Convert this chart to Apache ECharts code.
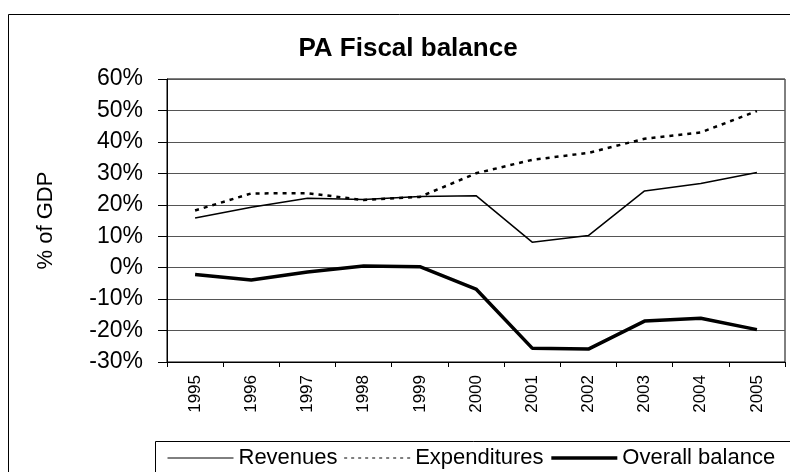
<!DOCTYPE html>
<html lang="en">
<head>
    <meta charset="UTF-8">
    <script src="https://cdn.jsdelivr.net/npm/echarts@6/dist/echarts.min.js"></script>
    <title>PA Fiscal balance</title>
    <style>
        html, body { margin: 0; padding: 0; background: #fff; }
    </style>
</head>
<body>
<div id="main" style="width: 790px;height:472px;"></div>

<script type="text/javascript">
    // data (% of GDP)
    var years = ['1995', '1996', '1997', '1998', '1999', '2000', '2001', '2002', '2003', '2004', '2005'];
    var revenues = [15.8, 19.2, 22.1, 21.7, 22.6, 22.9, 8.1, 10.2, 24.4, 26.8, 30.3];
    var expenditures = [18.2, 23.6, 23.7, 21.5, 22.5, 30.0, 34.3, 36.5, 41.0, 43.0, 49.8];
    var balance = [-2.2, -3.9, -1.4, 0.5, 0.3, -6.8, -25.6, -25.9, -17.0, -16.1, -19.7];

    var font = '"Liberation Sans", Arial, sans-serif';
    var myChart = echarts.init(document.getElementById('main'));

    var option = {
        animation: false,
        backgroundColor: '#fff',
        // outer frame + legend box
        graphic: [
            {
                type: 'rect',
                shape: {x: 8.5, y: 14.5, width: 820, height: 500},
                style: {fill: 'none', stroke: '#000', lineWidth: 1},
                silent: true, z: 0
            },
            {
                type: 'rect',
                shape: {x: 155.5, y: 441.5, width: 700, height: 100},
                style: {fill: 'none', stroke: '#000', lineWidth: 1},
                silent: true, z: 0
            }
        ],
        title: {
            text: 'PA Fiscal balance',
            left: 403,
            textAlign: 'center',
            top: 31,
            textStyle: {
                fontFamily: font,
                fontSize: 26,
                fontWeight: 'bold',
                color: '#000'
            }
        },
        legend: {
            data: [
                {name: 'Revenues', lineStyle: {width: 1}},
                {name: 'Expenditures', lineStyle: {width: 1.2, type: [3, 4]}},
                {name: 'Overall balance', lineStyle: {width: 3.5}}
            ],
            left: 167,
            top: 447,
            itemWidth: 66,
            itemHeight: 14,
            itemGap: 6,
            padding: 0,
            itemStyle: {opacity: 0},  // line only, no marker
            textStyle: {
                fontFamily: font,
                fontSize: 22,
                color: '#000'
            }
        },
        grid: {
            left: 167,
            right: 5,
            top: 79,
            bottom: 110,
            show: true,
            borderColor: '#000',
            borderWidth: 1
        },
        xAxis: {
            type: 'category',
            data: years,
            boundaryGap: true,
            axisLine: {onZero: false, lineStyle: {color: '#000', width: 1}},
            axisTick: {show: true, length: 5, lineStyle: {color: '#000'}},
            axisLabel: {
                rotate: 90,
                margin: 13,
                interval: 0,
                fontFamily: font,
                fontSize: 17,
                color: '#000'
            },
            splitLine: {show: false}
        },
        yAxis: {
            type: 'value',
            min: -30,
            max: 60,
            interval: 10,
            name: '% of GDP',
            nameLocation: 'middle',
            nameGap: 110,
            nameTextStyle: {
                fontFamily: font,
                fontSize: 22,
                color: '#000'
            },
            axisLine: {show: true, lineStyle: {color: '#000', width: 1}},
            axisTick: {show: true, length: 9, lineStyle: {color: '#000'}},
            axisLabel: {
                formatter: '{value}%',
                margin: 24,
                fontFamily: font,
                fontSize: 23,
                color: '#000'
            },
            splitLine: {show: true, lineStyle: {color: '#555', width: 1}}
        },
        series: [
            {
                name: 'Revenues',
                type: 'line',
                data: revenues,
                symbol: 'none',
                lineStyle: {color: '#000', width: 1.5},
                itemStyle: {color: '#000'}
            },
            {
                name: 'Expenditures',
                type: 'line',
                data: expenditures,
                symbol: 'none',
                lineStyle: {color: '#000', width: 2.5, type: [4, 5]},
                itemStyle: {color: '#000'}
            },
            {
                name: 'Overall balance',
                type: 'line',
                data: balance,
                symbol: 'none',
                lineStyle: {color: '#000', width: 3.5},
                itemStyle: {color: '#000'}
            }
        ]
    };
    myChart.setOption(option);
</script>
</body>
</html>
